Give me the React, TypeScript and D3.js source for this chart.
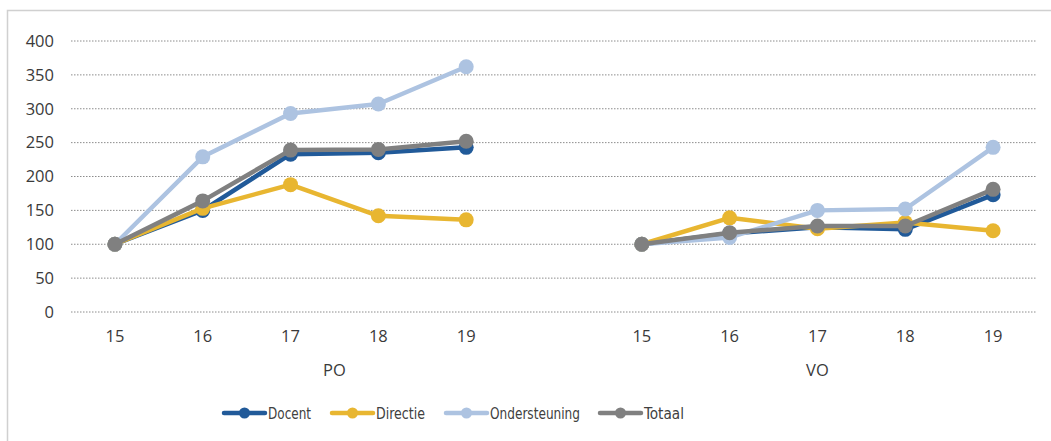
import * as d3 from 'd3'

const groups = ['PO', 'VO']
const years = ['15', '16', '17', '18', '19']
const yTicks = [0, 50, 100, 150, 200, 250, 300, 350, 400]

const seriesNames = ['Docent', 'Directie', 'Ondersteuning', 'Totaal']
const colors = ['#215a99', '#e8b631', '#adc3e1', '#808080']

// PO values then VO values per series
const docentPO = [100, 150, 233, 235, 243]
const docentVO = [100, 116, 125, 122, 173]
const directiePO = [100, 153, 188, 142, 136]
const directieVO = [100, 139, 123, 132, 120]
const ondersteuningPO = [100, 229, 293, 307, 362]
const ondersteuningVO = [100, 110, 150, 152, 243]
const totaalPO = [100, 164, 239, 240, 252]
const totaalVO = [100, 117, 127, 127, 181]

const seriesPO = [docentPO, directiePO, ondersteuningPO, totaalPO]
const seriesVO = [docentVO, directieVO, ondersteuningVO, totaalVO]

const W = 1051
const H = 441
const margin = { left: 71, right: 14, top: 41, bottom: 129 }

// slot keys: PO years, one blank slot, VO years
const slots = [
  ...years.map(y => 'PO-' + y),
  'PO-blank',
  ...years.map(y => 'VO-' + y),
]

const x = d3.scaleBand().domain(slots).range([margin.left, W - margin.right])
const y = d3.scaleLinear().domain([0, 400]).range([H - margin.bottom, margin.top])

const font = "'Open Sans', sans-serif"
const fs = 16.5

const App = () => {
  const cx = (k: string) => (x(k) as number) + x.bandwidth() / 2
  const line = d3.line<{ k: string; v: number }>().x(d => cx(d.k)).y(d => y(d.v))

  const series = seriesNames.map((name, i) => ({
    name,
    color: colors[i],
    parts: [
      seriesPO[i].map((v, j) => ({ k: 'PO-' + years[j], v })),
      seriesVO[i].map((v, j) => ({ k: 'VO-' + years[j], v })),
    ],
  }))

  const poCenter = (margin.left + ((x('PO-blank') as number) + x.bandwidth())) / 2
  const voCenter = (cx('VO-15') + cx('VO-19')) / 2

  const legendX = [224, 332, 446, 600]
  const legendW = [43, 49, 90, 40]

  return (
    <svg width={W} height={H} style={{ position: 'absolute', left: 0, top: 0, background: '#fff' }}>
      <rect x={7.5} y={10.5} width={W} height={H} fill="none" stroke="#d0d0d0" strokeWidth={1.5} />
      {yTicks.map(t => (
        <g key={t}>
          <line
            x1={margin.left}
            x2={W - margin.right}
            y1={y(t)}
            y2={y(t)}
            stroke="#8c8c8c"
            strokeWidth={1}
            strokeDasharray="1.5 1.5"
          />
          <text x={54} y={y(t)} dy="0.35em" textAnchor="end" fontFamily={font} fontSize={fs} fill="#3a3a3a">
            {t}
          </text>
        </g>
      ))}
      {groups.map(g =>
        years.map(yr => (
          <text
            key={g + yr}
            x={cx(g + '-' + yr)}
            y={336}
            dy="0.35em"
            textAnchor="middle"
            fontFamily={font}
            fontSize={fs}
            fill="#3a3a3a"
          >
            {yr}
          </text>
        ))
      )}
      <text x={poCenter} y={370} dy="0.35em" textAnchor="middle" fontFamily={font} fontSize={fs} fill="#3a3a3a">
        {groups[0]}
      </text>
      <text x={voCenter} y={370} dy="0.35em" textAnchor="middle" fontFamily={font} fontSize={fs} fill="#3a3a3a">
        {groups[1]}
      </text>
      {series.map(s => (
        <g key={s.name}>
          {s.parts.map((p, pi) => (
            <g key={pi}>
              <path d={line(p) as string} fill="none" stroke={s.color} strokeWidth={4.5} strokeLinejoin="round" />
              {p.map(d => (
                <circle key={d.k} cx={cx(d.k)} cy={y(d.v)} r={7.5} fill={s.color} />
              ))}
            </g>
          ))}
        </g>
      ))}
      {series.map((s, i) => (
        <g key={s.name} transform={`translate(${legendX[i]},413)`}>
          <line x1={0} x2={41} y1={0} y2={0} stroke={s.color} strokeWidth={4.5} strokeLinecap="round" />
          <circle cx={20.5} cy={0} r={5.5} fill={s.color} />
          <text
            x={44}
            y={0}
            dy="0.36em"
            fontFamily="'DejaVu Sans Condensed', sans-serif"
            fontSize={16.5}
            fill="#404040"
            textLength={legendW[i]}
            lengthAdjust="spacingAndGlyphs"
          >
            {s.name}
          </text>
        </g>
      ))}
    </svg>
  )
}

export default App
